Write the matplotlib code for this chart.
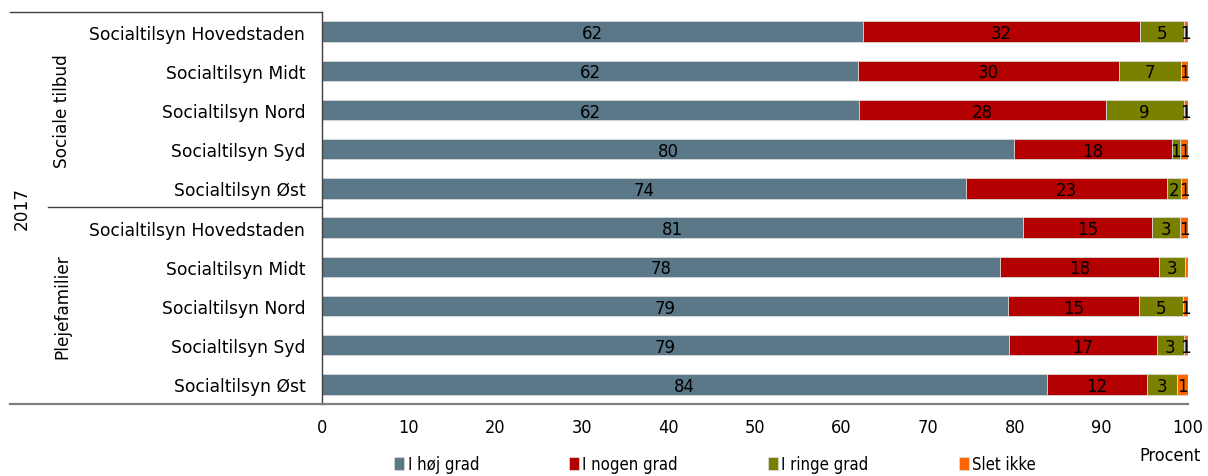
import numpy as np
import matplotlib
matplotlib.use('Agg')
import matplotlib.pyplot as plt
from matplotlib.lines import Line2D

# categories (top to bottom)
regions = ['Socialtilsyn Hovedstaden', 'Socialtilsyn Midt', 'Socialtilsyn Nord',
           'Socialtilsyn Syd', 'Socialtilsyn Øst',
           'Socialtilsyn Hovedstaden', 'Socialtilsyn Midt', 'Socialtilsyn Nord',
           'Socialtilsyn Syd', 'Socialtilsyn Øst']
groups = ['Sociale tilbud', 'Plejefamilier']
year = '2017'

series = ['I høj grad', 'I nogen grad', 'I ringe grad', 'Slet ikke']
colors = ['#5b7889', '#b40000', '#7a8000', '#ff6600']

# segment widths (percent)
hoej = [62.5, 61.9, 62.0, 79.9, 74.4, 81.0, 78.3, 79.2, 79.3, 83.7]
nogen = [32.0, 30.1, 28.5, 18.2, 23.2, 14.9, 18.4, 15.1, 17.1, 11.6]
ringe = [5.0, 7.2, 9.0, 1.0, 1.6, 3.2, 3.0, 5.1, 3.1, 3.4]
slet = [0.5, 0.8, 0.5, 0.9, 0.8, 0.9, 0.3, 0.6, 0.5, 1.3]

# printed labels
lab_hoej = ['62', '62', '62', '80', '74', '81', '78', '79', '79', '84']
lab_nogen = ['32', '30', '28', '18', '23', '15', '18', '15', '17', '12']
lab_ringe = ['5', '7', '9', '1', '2', '3', '3', '5', '3', '3']
lab_slet = ['1', '1', '1', '1', '1', '1', '', '1', '1', '1']

W, H = 1208, 477
fig = plt.figure(figsize=(W / 100, H / 100), dpi=100)
ax = fig.add_axes([322 / W, (H - 405) / H, (1188 - 322) / W, (405 - 13) / H])

y = np.arange(len(regions))
data = [hoej, nogen, ringe, slet]
labels = [lab_hoej, lab_nogen, lab_ringe, lab_slet]
left = np.zeros(len(regions))
for vals, labs, col, name in zip(data, labels, colors, series):
    vals = np.array(vals)
    ax.barh(y, vals, left=left, height=0.52, color=col, edgecolor='#d8d8d8',
            linewidth=0.6, label=name)
    for yi, (l, v, t) in enumerate(zip(left, vals, labs)):
        if t:
            ax.text(l + v / 2, yi + 0.04, t, ha='center', va='center',
                    fontsize=12, color='black')
    left += vals

ax.set_ylim(len(regions) - 0.5, -0.5)
ax.set_xlim(0, 100)
ax.set_xticks(np.arange(0, 101, 10))
ax.set_yticks(y)
ax.set_yticklabels(regions, fontsize=12.3)
ax.tick_params(axis='y', length=0, pad=12)
ax.tick_params(axis='x', length=0, pad=10, labelsize=13)
for lbl in ax.get_xticklabels():
    lbl.set_stretch('condensed')
for s in ['top', 'right', 'bottom']:
    ax.spines[s].set_visible(False)
ax.spines['left'].set_color('#404040')
ax.spines['left'].set_linewidth(1.0)

# table-like lines on the left and bottom
def fline(x0, x1, y0, y1, c='#404040', lw=1.0):
    fig.add_artist(Line2D([x0 / W, x1 / W], [1 - y0 / H, 1 - y1 / H],
                          color=c, linewidth=lw))

fline(10, 322, 13, 13)
fline(48, 322, 208, 208)
fline(10, 1188, 405, 405, c='#7f7f7f', lw=1.6)

fig.text(22 / W, 1 - 208 / H, year, rotation=90, ha='center', va='center',
         fontsize=12.2)
fig.text(62 / W, 1 - 111 / H, groups[0], rotation=90, ha='center', va='center',
         fontsize=12.2)
fig.text(62 / W, 1 - 307 / H, groups[1], rotation=90, ha='center', va='center',
         fontsize=12.2)

fig.text(1201 / W, 1 - 456 / H, 'Procent', ha='right', va='center',
         fontsize=13, stretch='condensed')

leg = fig.legend(loc='center', bbox_to_anchor=(715 / W, 1 - 465 / H), ncol=4,
                 frameon=False, handlelength=0.6, handleheight=0.8,
                 handletextpad=0.2, columnspacing=5.4, borderpad=0.1,
                 prop={'family': 'DejaVu Sans', 'stretch': 'condensed', 'size': 12})

fig.savefig('out.png', dpi=100)
